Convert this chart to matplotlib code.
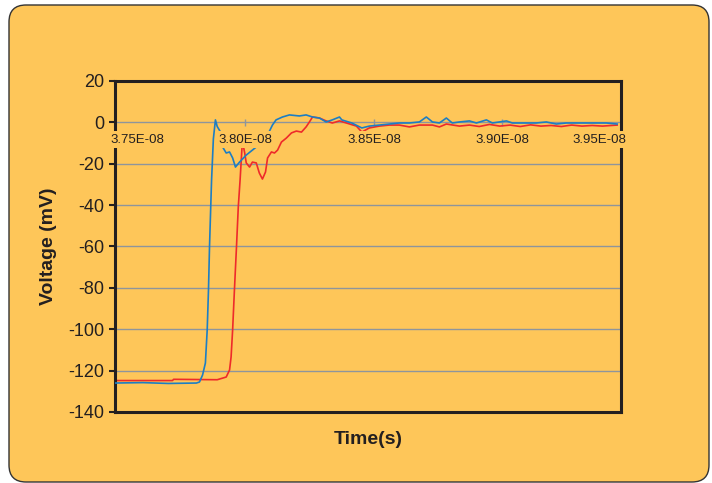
import matplotlib
matplotlib.use("Agg")
import matplotlib.pyplot as plt
from matplotlib.patches import FancyBboxPatch
from matplotlib.transforms import IdentityTransform

# time values in units of 1e-8 s, voltages in mV
blue_t = [3.749, 3.760, 3.770, 3.7809, 3.7821, 3.7833, 3.7844, 3.7851, 3.7856, 3.786,
          3.7864, 3.7868, 3.7875, 3.7883, 3.789, 3.7905, 3.7911, 3.7925, 3.7938, 3.795,
          3.7961, 3.7977, 3.8003, 3.8042, 3.8086, 3.8105, 3.8119, 3.8144, 3.8171, 3.821,
          3.8236, 3.8261, 3.8288, 3.8314, 3.8338, 3.8366, 3.8375, 3.8414, 3.8453, 3.8482,
          3.8521, 3.856, 3.8599, 3.8638, 3.8677, 3.8704, 3.8728, 3.8755, 3.8782, 3.8805,
          3.8833, 3.8872, 3.8899, 3.8938, 3.8961, 3.9016, 3.9039, 3.9093, 3.9132, 3.9171,
          3.921, 3.9249, 3.93, 3.9351, 3.9405, 3.9447]
blue_v = [-126.0, -125.8, -126.2, -126.0, -125.5, -122.1, -116.3, -100.3, -81.0, -60.2,
          -43.8, -27.9, -8.0, 1.2, -2.0, -5.1, -11.9, -14.8, -14.3, -17.2,
          -21.6, -19.2, -15.8, -11.9, -6.1, -1.3, 1.2, 2.6, 3.6, 3.1,
          3.6, 2.6, 2.1, 0.2, 1.2, 2.6, 1.2, -0.3, -2.7, -1.8,
          -1.3, -0.8, -0.3, -0.3, 0.2, 2.6, 0.2, -0.3, 2.1, -0.3,
          0.2, 0.7, -0.3, 1.2, -0.3, 0.7, -0.3, -0.3, -0.3, 0.2,
          -0.8, -0.3, -0.3, -0.3, -0.3, -0.8]

red_t = [3.749, 3.7716, 3.772, 3.789, 3.7925, 3.7938, 3.7944, 3.795, 3.7957, 3.7965,
         3.7972, 3.7979, 3.7988, 3.7997, 3.8003, 3.8016, 3.8027, 3.8042, 3.8054, 3.8066,
         3.8078, 3.8086, 3.8101, 3.8113, 3.8125, 3.814, 3.8159, 3.8179, 3.8198, 3.8218,
         3.8236, 3.8249, 3.8261, 3.8288, 3.8314, 3.8338, 3.8366, 3.8393, 3.8432, 3.8453,
         3.8482, 3.8521, 3.856, 3.8599, 3.8638, 3.8677, 3.8728, 3.8755, 3.8782, 3.8833,
         3.8872, 3.891, 3.895, 3.899, 3.903, 3.907, 3.911, 3.915, 3.919, 3.923,
         3.927, 3.931, 3.935, 3.939, 3.9447]
red_v = [-124.8, -124.8, -124.2, -124.4, -123.1, -119.7, -113.4, -100.3, -81.0, -60.2,
         -40.9, -27.9, -9.0, -14.8, -19.6, -21.6, -19.2, -19.6, -24.5, -27.4,
         -24.0, -17.2, -14.3, -14.8, -13.4, -9.5, -7.6, -5.1, -4.2, -4.7,
         -2.2, 0.2, 2.6, 2.1, 0.7, -0.3, 0.7, -0.3, -1.8, -4.7,
         -2.7, -1.8, -1.3, -1.3, -2.2, -1.3, -1.3, -2.2, -0.8, -1.8,
         -1.3, -2.0, -1.0, -1.8, -1.3, -2.0, -1.2, -1.8, -1.5, -2.0,
         -1.3, -1.8, -1.5, -1.8, -1.3]

x_ticks = [3.75, 3.80, 3.85, 3.90, 3.95]
x_tick_labels = ["3.75E-08", "3.80E-08", "3.85E-08", "3.90E-08", "3.95E-08"]
y_ticks = [20, 0, -20, -40, -60, -80, -100, -120, -140]

bg = "#FEC659"
plt.rcParams["font.family"] = ["Liberation Sans", "DejaVu Sans"]

fig = plt.figure(figsize=(7.12, 4.83), dpi=100, facecolor="white")
# rounded orange panel behind everything (pixel coordinates)
panel = FancyBboxPatch((9, 1), 700, 477, boxstyle="round,pad=0,rounding_size=17",
                       transform=IdentityTransform(), facecolor=bg,
                       edgecolor="#333333", linewidth=1.0, zorder=-5)
fig.patches.append(panel)

ax = fig.add_axes([0.1615, 0.147, 0.7107, 0.6853])
ax.set_zorder(2)
ax.set_facecolor(bg)

scale = 1e-8
ax.plot([t * scale for t in blue_t], blue_v, color="#1C7EC4", lw=1.2, zorder=3)
ax.plot([t * scale for t in red_t], red_v, color="#EE2A2A", lw=1.2, zorder=2)

x0, x1 = 3.7492e-8, 3.9462e-8
ax.set_xlim(x0, x1)
ax.set_ylim(-140, 20)
ax.set_yticks(y_ticks)
ax.set_yticklabels([str(v) for v in y_ticks], fontsize=13, color="#231F20")
ax.grid(axis="y", color="#8E959C", lw=1.0, zorder=1)
ax.set_axisbelow(True)
ax.tick_params(axis="y", length=4, width=1.5, color="#231F20", pad=4)
ax.set_xticks([])

for s in ax.spines.values():
    s.set_color("#231F20")
    s.set_linewidth(2.2)

# category axis crossing at 0 mV: small tick marks and labels with opaque boxes
for t in x_ticks[1:4]:
    ax.vlines(t * scale, -1.8, 1.8, color="#8E959C", lw=1.0, zorder=1)
for t, lab in zip(x_ticks, x_tick_labels):
    frac = (t * scale - x0) / (x1 - x0)
    frac = min(max(frac, 0.045), 0.957)
    ax.text(frac, 0.822, lab, transform=ax.transAxes, ha="center", va="center",
            fontsize=9.5, color="#231F20", zorder=4,
            bbox=dict(facecolor=bg, edgecolor="none", pad=1.8))

ax.set_ylabel("Voltage (mV)", fontsize=14, fontweight="bold", color="#231F20", labelpad=8)
ax.set_xlabel("Time(s)", fontsize=14, fontweight="bold", color="#231F20", labelpad=14)

fig.savefig("out.png", dpi=100, facecolor="white")
